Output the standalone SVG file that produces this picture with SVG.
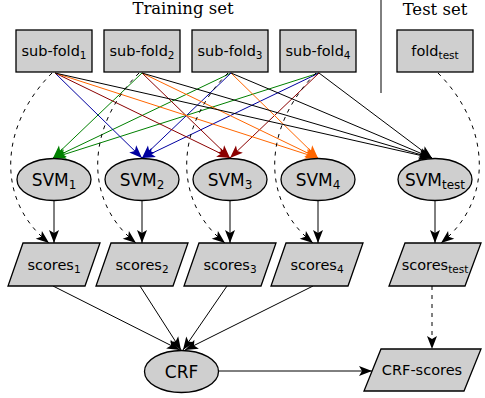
<svg xmlns="http://www.w3.org/2000/svg" width="485" height="398" viewBox="0 0 485 398">
<style>
.nd{fill:#cfcfcf;stroke:#000;stroke-width:1.3}
.lb{font-family:"DejaVu Sans",sans-serif;font-size:14.5px;fill:#000;text-anchor:middle}
.lg{font-family:"DejaVu Sans",sans-serif;font-size:17px;fill:#000;text-anchor:middle}
.sub{font-size:10.5px}
.sub2{font-size:12px}
.hd{font-family:"DejaVu Serif",serif;font-size:16.5px;fill:#000;text-anchor:middle}
.e{fill:none;stroke-width:1}
.k{stroke:#000;marker-end:url(#ak)}
.g{stroke:#008000;marker-end:url(#ag)}
.b{stroke:#0000a0;marker-end:url(#ab)}
.r{stroke:#8b0000;marker-end:url(#ar)}
.o{stroke:#ff6600;marker-end:url(#ao)}
.d{stroke:#000;stroke-dasharray:4,5;marker-end:url(#ak)}
</style>
<defs>
<marker id="ak" markerUnits="userSpaceOnUse" markerWidth="14" markerHeight="11" refX="13" refY="5" orient="auto" overflow="visible"><path d="M0,0 L13,5 L0,10 L3,5 z" fill="#000"/></marker>
<marker id="ag" markerUnits="userSpaceOnUse" markerWidth="14" markerHeight="11" refX="13" refY="5" orient="auto" overflow="visible"><path d="M0,0 L13,5 L0,10 L3,5 z" fill="#008000"/></marker>
<marker id="ab" markerUnits="userSpaceOnUse" markerWidth="14" markerHeight="11" refX="13" refY="5" orient="auto" overflow="visible"><path d="M0,0 L13,5 L0,10 L3,5 z" fill="#0000a0"/></marker>
<marker id="ar" markerUnits="userSpaceOnUse" markerWidth="14" markerHeight="11" refX="13" refY="5" orient="auto" overflow="visible"><path d="M0,0 L13,5 L0,10 L3,5 z" fill="#8b0000"/></marker>
<marker id="ao" markerUnits="userSpaceOnUse" markerWidth="14" markerHeight="11" refX="13" refY="5" orient="auto" overflow="visible"><path d="M0,0 L13,5 L0,10 L3,5 z" fill="#ff6600"/></marker>
</defs>

<text class="hd" x="183" y="14">Training set</text>
<text class="hd" x="435" y="15">Test set</text>
<line x1="381" y1="0" x2="381" y2="93" stroke="#000" stroke-width="1"/>

<g id="connectors">
<line class="e g" x1="142" y1="73" x2="53" y2="158"/>
<line class="e g" x1="231" y1="73" x2="53" y2="158"/>
<line class="e g" x1="319" y1="73" x2="53" y2="158"/>
<line class="e b" x1="55" y1="73" x2="142" y2="158"/>
<line class="e b" x1="231" y1="73" x2="142" y2="158"/>
<line class="e b" x1="319" y1="73" x2="142" y2="158"/>
<line class="e r" x1="55" y1="73" x2="230" y2="158"/>
<line class="e r" x1="142" y1="73" x2="230" y2="158"/>
<line class="e r" x1="319" y1="73" x2="230" y2="158"/>
<line class="e o" x1="55" y1="73" x2="318" y2="158"/>
<line class="e o" x1="142" y1="73" x2="318" y2="158"/>
<line class="e o" x1="231" y1="73" x2="318" y2="158"/>
<line class="e k" x1="55" y1="73" x2="432" y2="158"/>
<line class="e k" x1="142" y1="73" x2="432" y2="158"/>
<line class="e k" x1="231" y1="73" x2="432" y2="158"/>
<line class="e k" x1="319" y1="73" x2="432" y2="158"/>
<path class="e d" d="M52,73 C0,125 -5,200 49,243"/>
<path class="e d" d="M139,73 C87,125 82,200 136,243"/>
<path class="e d" d="M228,73 C176,125 171,200 225,243"/>
<path class="e d" d="M316,73 C264,125 259,200 313,243"/>
<path class="e d" d="M438,73 C490,125 495,200 441,243"/>
<line class="e k" x1="54" y1="201" x2="54" y2="243"/>
<line class="e k" x1="142" y1="201" x2="142" y2="243"/>
<line class="e k" x1="230" y1="201" x2="230" y2="243"/>
<line class="e k" x1="318" y1="201" x2="318" y2="243"/>
<line class="e k" x1="435" y1="201" x2="435" y2="243"/>
<line class="e k" x1="53" y1="286" x2="180" y2="350"/>
<line class="e k" x1="140" y1="286" x2="181" y2="350"/>
<line class="e k" x1="227" y1="286" x2="183" y2="350"/>
<line class="e k" x1="313" y1="286" x2="185" y2="350"/>
<line class="e k" x1="219" y1="371" x2="372" y2="371"/>
<line class="e d" x1="432" y1="286" x2="432" y2="349"/>
</g>

<g id="subfold1"><rect class="nd" x="16" y="30" width="76" height="42"/><text class="lb" x="54" y="56">sub-fold<tspan class="sub" dy="3">1</tspan></text></g>
<g id="subfold2"><rect class="nd" x="104" y="30" width="76" height="42"/><text class="lb" x="142" y="56">sub-fold<tspan class="sub" dy="3">2</tspan></text></g>
<g id="subfold3"><rect class="nd" x="192" y="30" width="76" height="42"/><text class="lb" x="230" y="56">sub-fold<tspan class="sub" dy="3">3</tspan></text></g>
<g id="subfold4"><rect class="nd" x="280" y="30" width="76" height="42"/><text class="lb" x="318" y="56">sub-fold<tspan class="sub" dy="3">4</tspan></text></g>
<g id="foldtest"><rect class="nd" x="397" y="30" width="76" height="42"/><text class="lb" x="435" y="56">fold<tspan class="sub" dy="3">test</tspan></text></g>

<g id="svm1"><ellipse class="nd" cx="54" cy="179.5" rx="37" ry="21"/><text class="lg" x="54" y="185.5">SVM<tspan class="sub2" dy="3">1</tspan></text></g>
<g id="svm2"><ellipse class="nd" cx="142" cy="179.5" rx="37" ry="21"/><text class="lg" x="142" y="185.5">SVM<tspan class="sub2" dy="3">2</tspan></text></g>
<g id="svm3"><ellipse class="nd" cx="230" cy="179.5" rx="37" ry="21"/><text class="lg" x="230" y="185.5">SVM<tspan class="sub2" dy="3">3</tspan></text></g>
<g id="svm4"><ellipse class="nd" cx="318" cy="179.5" rx="37" ry="21"/><text class="lg" x="318" y="185.5">SVM<tspan class="sub2" dy="3">4</tspan></text></g>
<g id="svmtest"><ellipse class="nd" cx="435" cy="179.5" rx="37" ry="21"/><text class="lg" x="435" y="185.5">SVM<tspan class="sub2" dy="3">test</tspan></text></g>

<g id="scores1"><polygon class="nd" points="23,243 100,243 85,286 8,286"/><text class="lb" x="54" y="270">scores<tspan class="sub" dy="3">1</tspan></text></g>
<g id="scores2"><polygon class="nd" points="111,243 188,243 173,286 96,286"/><text class="lb" x="142" y="270">scores<tspan class="sub" dy="3">2</tspan></text></g>
<g id="scores3"><polygon class="nd" points="199,243 276,243 261,286 184,286"/><text class="lb" x="230" y="270">scores<tspan class="sub" dy="3">3</tspan></text></g>
<g id="scores4"><polygon class="nd" points="286,243 363,243 348,286 271,286"/><text class="lb" x="317" y="270">scores<tspan class="sub" dy="3">4</tspan></text></g>
<g id="scorestest"><polygon class="nd" points="405,243 481,243 465,286 389,286"/><text class="lb" x="435" y="270">scores<tspan class="sub" dy="3">test</tspan></text></g>

<g id="crf"><ellipse class="nd" cx="181.5" cy="371.5" rx="37" ry="21"/><text class="lg" x="181.5" y="377.5">CRF</text></g>
<g id="crfscores"><polygon class="nd" points="381,349 481,349 464,391 364,391"/><text class="lb" x="422" y="375">CRF-scores</text></g>
</svg>
